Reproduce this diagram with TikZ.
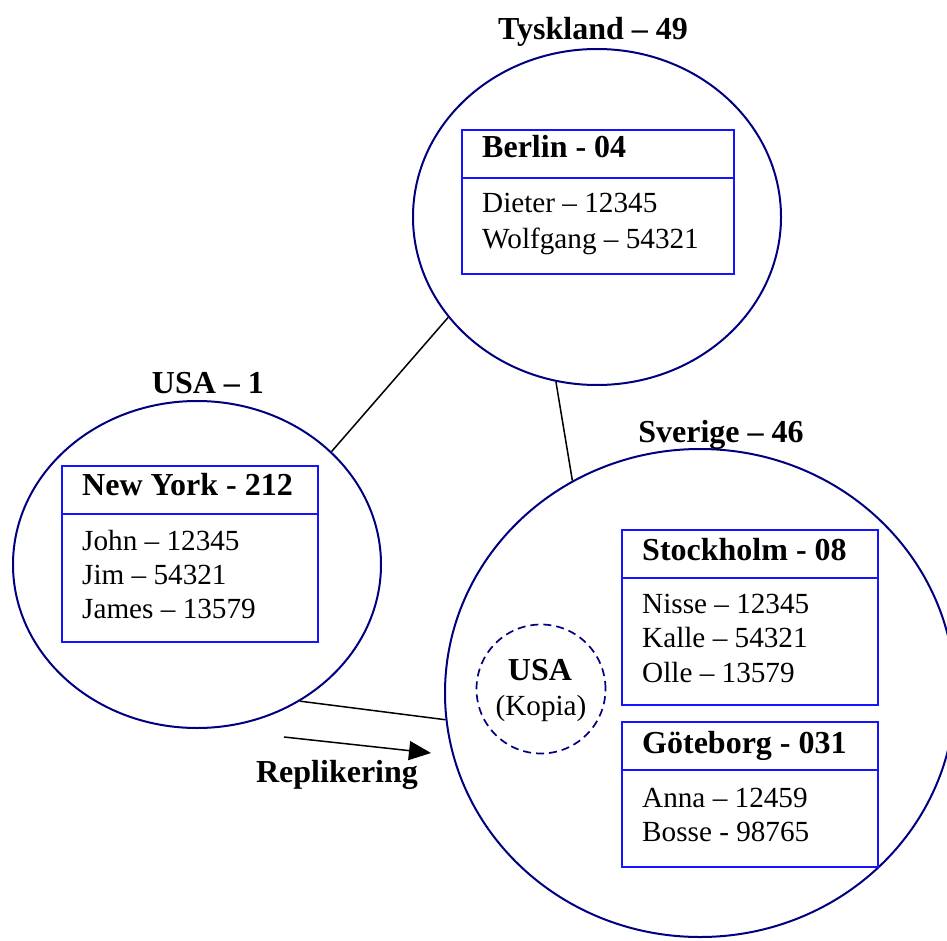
\documentclass[tikz,border=0pt]{standalone}
\usepackage{fontspec}
\setmainfont{Liberation Serif}
\usetikzlibrary{shapes.geometric,arrows.meta}
\definecolor{navy}{RGB}{0,0,128}
\definecolor{boxblue}{RGB}{20,20,255}
\begin{document}
\begin{tikzpicture}[x=1pt,y=-1pt,
  ell/.style={ellipse,draw=navy,line width=2pt,inner sep=0pt},
  dashcirc/.style={circle,draw=navy,line width=1.7pt,dash pattern=on 8pt off 5pt,inner sep=0pt,minimum size=129pt},
  hdrbox/.style={rectangle,draw=boxblue,line width=1.7pt,inner sep=0pt,anchor=north west,minimum height=48pt},
  bodybox/.style={rectangle,draw=boxblue,line width=1.7pt,inner sep=0pt,anchor=north west},
  txt/.style={anchor=base west,inner sep=0pt,font=\fontsize{29.2}{34}\selectfont},
  ttl/.style={anchor=base west,inner sep=0pt,font=\fontsize{32}{36}\selectfont\bfseries},
  cname/.style={anchor=base,inner sep=0pt,font=\fontsize{32}{36}\selectfont\bfseries},
  conn/.style={draw=black,line width=1.5pt}]
\useasboundingbox (0,0) rectangle (947,941);

% countries
\node[ell,minimum width=368pt,minimum height=336pt] (tysk) at (597,217) {};
\node[ell,minimum width=368pt,minimum height=327pt] (usa) at (197,564.5) {};
\node[ell,minimum width=510pt,minimum height=488pt] (sver) at (700,693) {};

\node[cname] (ltysk) at (593,40) {Tyskland – 49};
\node[cname] (lusa) at (208,393) {USA – 1};
\node[cname] (lsver) at (721,442) {Sverige – 46};

% Berlin
\node[hdrbox,minimum width=272pt] (berh) at (461,129) {};
\node[bodybox,minimum width=272pt,minimum height=96pt] (berb) at (461,177) {};
\node[ttl] (bert) at (482,158) {Berlin - 04};
\node[txt] (ber1) at (482,213) {Dieter – 12345};
\node[txt] (ber2) at (482,248) {Wolfgang – 54321};

% New York
\node[hdrbox,minimum width=256pt] (nyh) at (61,465) {};
\node[bodybox,minimum width=256pt,minimum height=128pt] (nyb) at (61,513) {};
\node[ttl] (nyt) at (82,495) {New York - 212};
\node[txt] (ny1) at (82,550) {John – 12345};
\node[txt] (ny2) at (82,584) {Jim – 54321};
\node[txt] (ny3) at (82,618) {James – 13579};

% Stockholm
\node[hdrbox,minimum width=256pt] (sth) at (621,529) {};
\node[bodybox,minimum width=256pt,minimum height=127pt] (stb) at (621,577) {};
\node[ttl] (stt) at (642,560) {Stockholm - 08};
\node[txt] (st1) at (642,613) {Nisse – 12345};
\node[txt] (st2) at (642,647) {Kalle – 54321};
\node[txt] (st3) at (642,682) {Olle – 13579};

% Goteborg
\node[hdrbox,minimum width=256pt] (gbh) at (621,721) {};
\node[bodybox,minimum width=256pt,minimum height=97pt] (gbb) at (621,769) {};
\node[ttl] (gbt) at (642,753) {Göteborg - 031};
\node[txt] (gb1) at (642,807) {Anna – 12459};
\node[txt] (gb2) at (642,841) {Bosse - 98765};

% USA copy
\node[dashcirc] (kopia) at (541,689) {};
\node[cname] (kusa) at (540,680) {USA};
\node[cname,font=\fontsize{29.2}{34}\selectfont] (kkop) at (541,715) {(Kopia)};

% connectors
\draw[conn] (usa.40) -- (tysk.214.6);
\draw[conn] (tysk.256.5) -- (sver.121);
\draw[conn] (usa.-53.5) -- (sver.186.3);

\coordinate (rs) at (284,737);
\coordinate (re) at (431,753);
\draw[conn,-{Triangle[length=22pt,width=19pt]}] (rs) -- (re);
\node[cname] (repl) at (337,782) {Replikering};
\end{tikzpicture}
\end{document}
